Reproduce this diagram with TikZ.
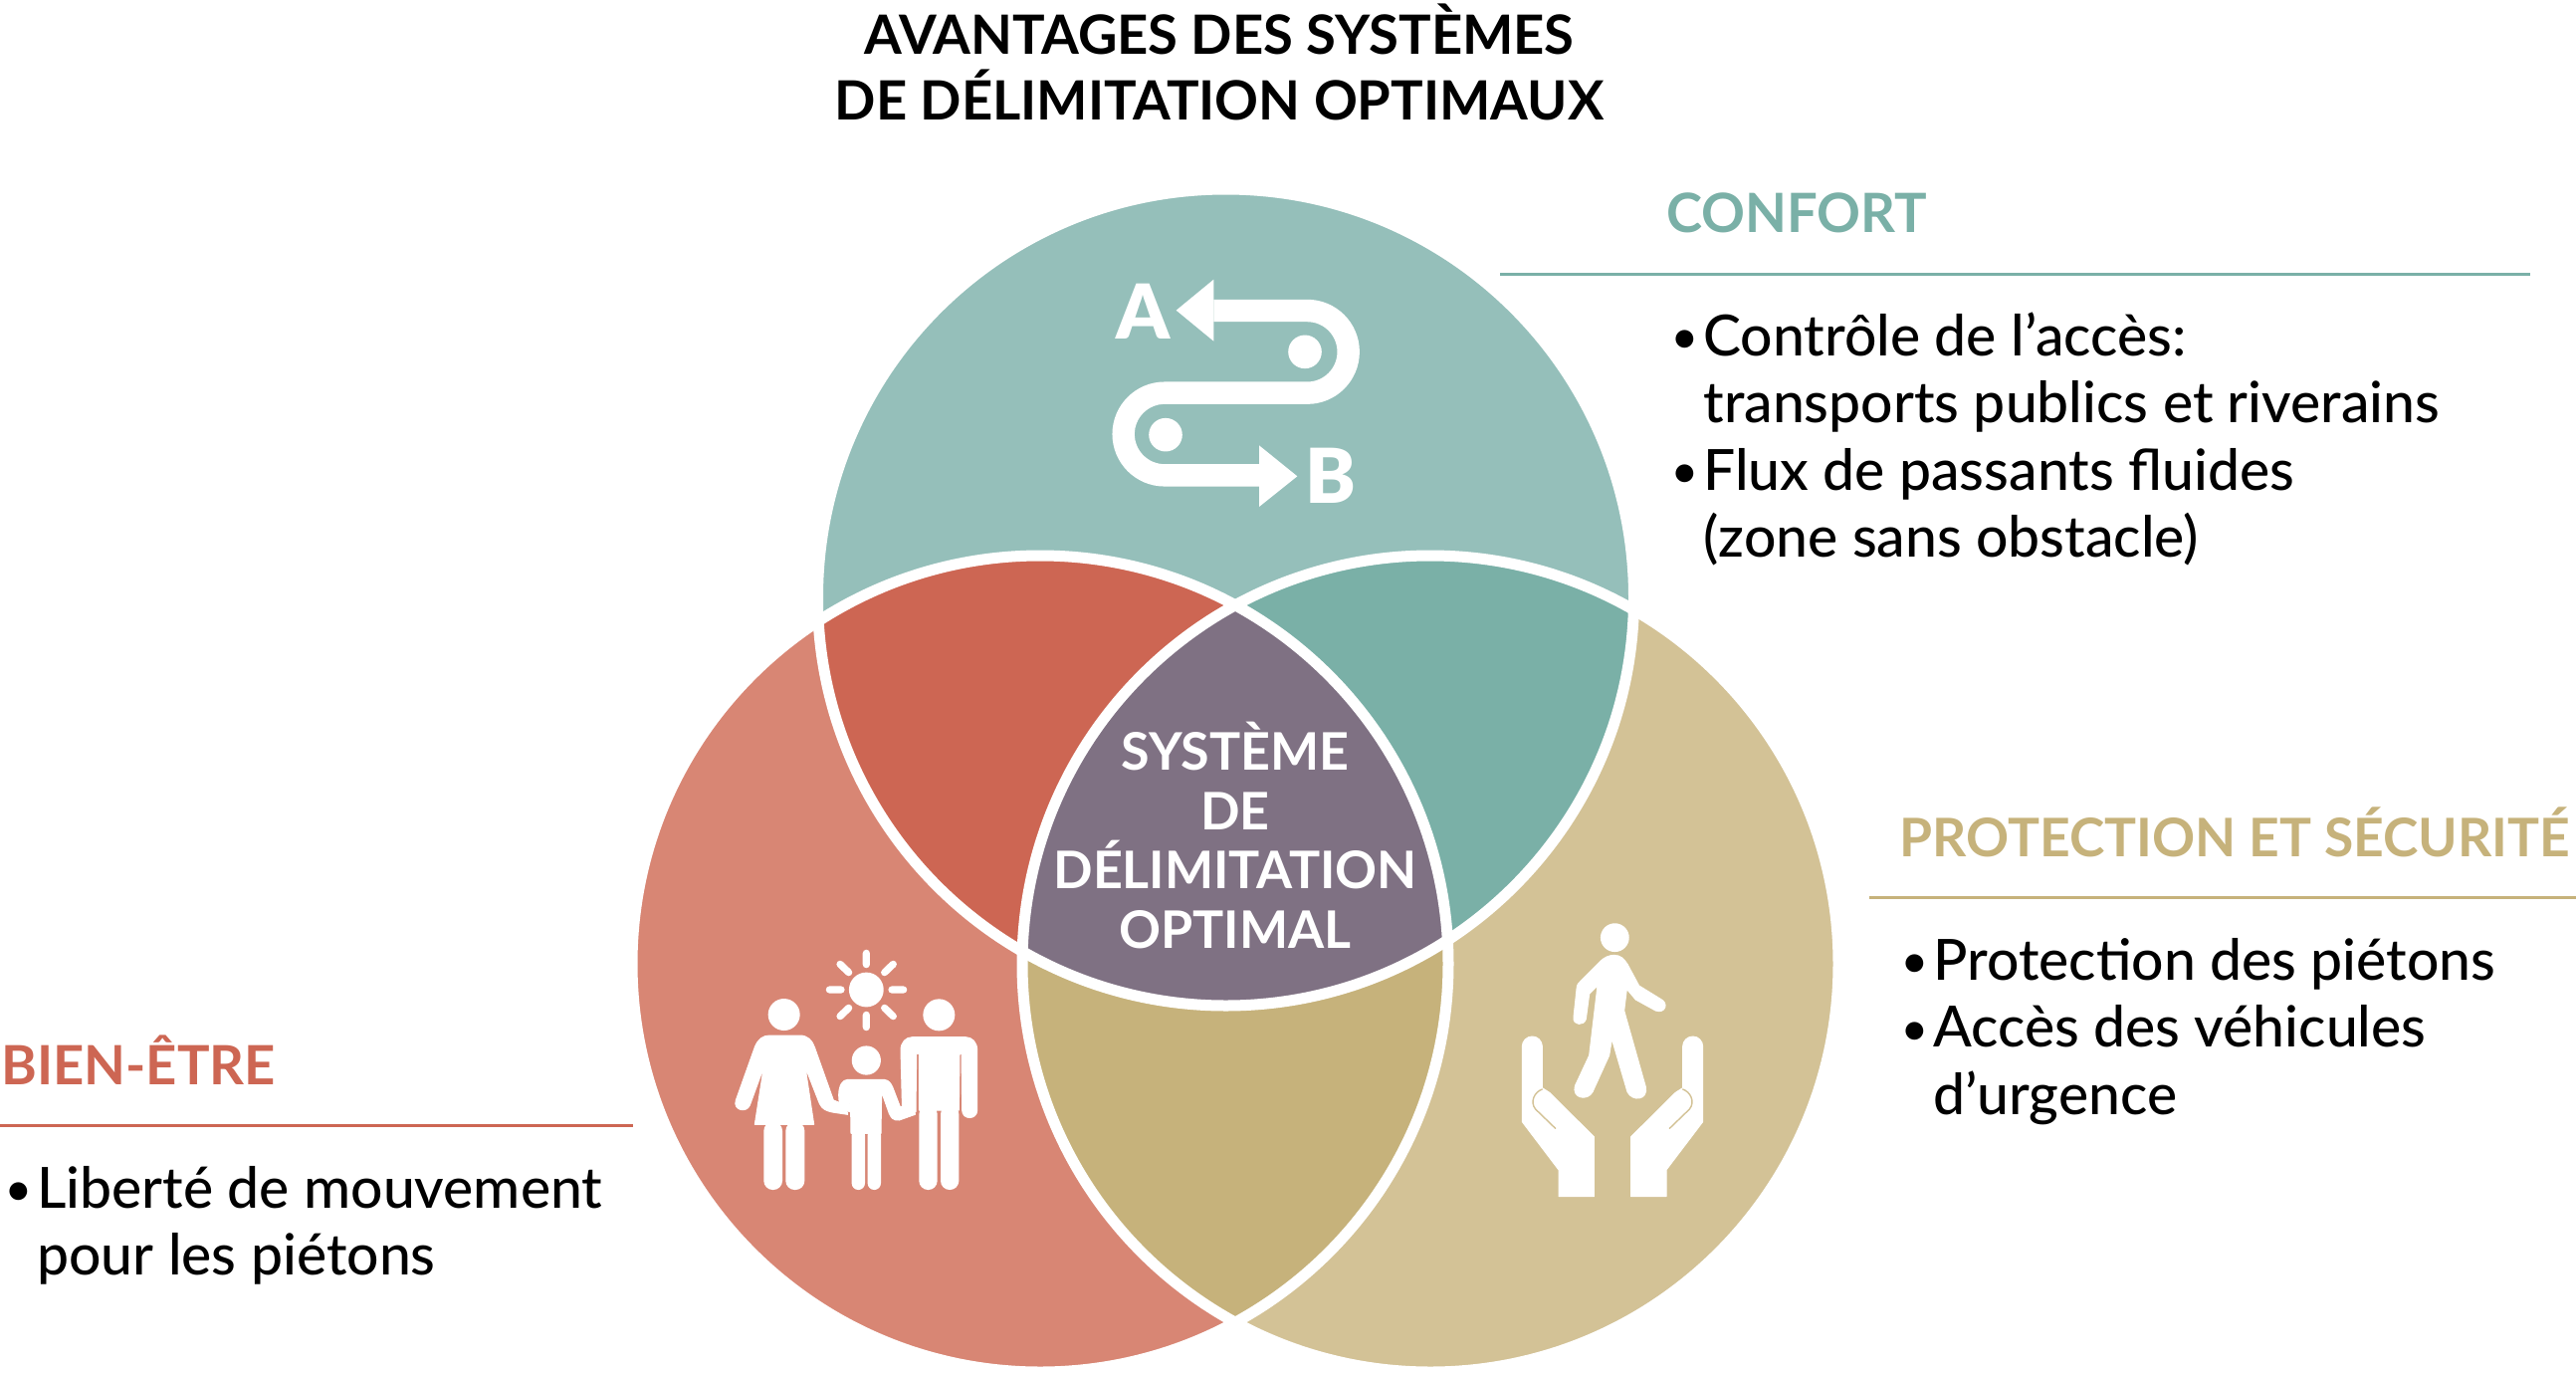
\documentclass[tikz,border=0pt]{standalone}
\usepackage{fontspec}
\setmainfont{Lato Medium}[BoldFont=Lato Bold]
\newfontfamily\iconfont{Lato Black}
\definecolor{ctop}{HTML}{95BFBA}
\definecolor{cleft}{HTML}{D88674}
\definecolor{cright}{HTML}{D3C296}
\definecolor{ctl}{HTML}{CD6653}
\definecolor{ctr}{HTML}{7AB0A7}
\definecolor{cbot}{HTML}{C6B27B}
\definecolor{cmid}{HTML}{7F7183}
\newcommand{\bul}{\makebox[16pt][l]{{\fontsize{23}{23}\selectfont\raisebox{1.2pt}{•}}}}
\newcommand{\ind}{\hspace*{16pt}}
\newcommand{\cirT}{(1231.5,600) circle[radius=205pt]}
\newcommand{\cirL}{(1045,968) circle[radius=205pt]}
\newcommand{\cirR}{(1437,968) circle[radius=205pt]}
\tikzset{
  body/.style={anchor=base west,align=left,inner sep=0pt,font=\fontsize{28.5}{33.75}\selectfont,text=black},
  head/.style={anchor=base west,inner sep=0pt,font=\fontsize{27.2}{33}\selectfont\bfseries},
  rule/.style={line width=1.5pt},
  ring/.style={draw=white,line width=5.5pt},
  icon/.style={fill=white,draw=white,line width=0.5pt,line join=round},
  ray/.style={draw=white,line width=3.6pt,line cap=round},
  letter/.style={inner sep=0pt,anchor=base,text=white,font=\fontsize{38}{38}\iconfont}
}
\begin{document}
\begin{tikzpicture}[x=0.5pt,y=-0.5pt]
\useasboundingbox (0,0) rectangle (2588,1383);
\fill[white] (0,0) rectangle (2588,1383);
% Venn
\fill[ctop] \cirT; \fill[cleft] \cirL; \fill[cright] \cirR;
\begin{scope}\clip \cirT; \fill[ctl] \cirL; \fill[ctr] \cirR; \end{scope}
\begin{scope}\clip \cirL; \fill[cbot] \cirR; \end{scope}
\begin{scope}\clip \cirT; \clip \cirL; \fill[cmid] \cirR; \end{scope}
\draw[ring] \cirT; \draw[ring] \cirL; \draw[ring] \cirR;
% title
\node[anchor=base,inner sep=0pt,align=center,font=\fontsize{27.2}{33}\selectfont\bfseries] (title) at (1225,120) {AVANTAGES DES SYSTÈMES\\DE DÉLIMITATION OPTIMAUX};
% centre
\node[anchor=base,inner sep=0pt,align=center,text=white,font=\fontsize{26}{29.75}\selectfont\bfseries] (centre) at (1241,952) {SYSTÈME\\DE\\DÉLIMITATION\\OPTIMAL};
% confort
\node[head,text=ctr] (hconfort) at (1674,233) {CONFORT};
\draw[rule,ctr] (1507,275) -- (2542,275);
\node[body] (bconfort) at (1679,559.5) {\bul Contrôle de l’accès:\\\ind transports publics et riverains\\\bul Flux de passants fluides\\\ind (zone sans obstacle)};
% protection
\node[head,text=cbot,font=\fontsize{26.7}{33}\selectfont\bfseries] (hprot) at (1908,860) {PROTECTION ET SÉCURITÉ};
\draw[rule,cbot] (1878,901) -- (2588,901);
\node[body] (bprot) at (1910,1119) {\bul Protection des piétons\\\bul Accès des véhicules\\\ind d’urgence};
% bien-etre
\node[head,text=ctl] (hbien) at (1,1089) {BIEN-ÊTRE};
\draw[rule,ctl] (0,1130.5) -- (636,1130.5);
\node[body] (bbien) at (5,1280.5) {\bul Liberté de mouvement\\\ind pour les piétons};
% A-B icon
\begin{scope}[shift={(1080,240)},x=0.16667pt,y=-0.16667pt]
\draw[white,line width=11.2pt] (418,216) -- (700,216) arc[start angle=-90,end angle=90,radius=124] -- (270,464) arc[start angle=-90,end angle=-270,radius=124] -- (555,712);
\fill[white] (305,215) -- (418,122) -- (418,308) -- cycle;
\fill[white] (670,715) -- (555,622) -- (555,807) -- cycle;
\fill[white] (693,340) circle[radius=8.4pt];
\fill[white] (273,590) circle[radius=8.4pt];
\node[letter] (la) at (205,300) {A};
\node[letter] (lb) at (772,797) {B};
\end{scope}
% family icon
\begin{scope}[shift={(710,930)},x=0.16667pt,y=-0.16667pt]
\fill[white] (481,192) circle[radius=8.7pt];
\draw[ray] (481,82)--(481,116) (481,268)--(481,305) (370,192)--(405,192) (558,192)--(593,192) (402,115)--(428,140) (562,115)--(536,140) (402,272)--(428,247) (562,272)--(536,247);
\fill[white] (233,267) circle[radius=8pt];
\fill[white] (700,268) circle[radius=8pt];
\fill[white] (481,405) circle[radius=7.3pt];
% woman
\fill[icon] (190,330) -- (280,330) .. controls (305,330) and (318,345) .. (325,365) -- (382,525) -- (420,540) -- (425,568) -- (385,562) .. controls (360,558) and (348,552) .. (340,535) -- (297,425) -- (323,598) -- (145,598) -- (172,425) -- (130,540) .. controls (120,565) and (78,555) .. (88,525) -- (145,365) .. controls (155,340) and (170,330) .. (190,330) -- cycle;
\fill[white,rounded corners=4.5pt] (172,590) rectangle (228,795);
\fill[white,rounded corners=4.5pt] (238,590) rectangle (295,795);
% child
\fill[icon] (425,463) -- (535,463) .. controls (550,465) and (555,475) .. (560,485) -- (583,545) -- (625,540) -- (628,568) -- (580,585) .. controls (560,587) and (555,575) .. (550,565) -- (527,500) -- (525,625) -- (435,625) -- (433,500) -- (430,560) -- (400,540) -- (398,510) .. controls (398,480) and (410,463) .. (425,463) -- cycle;
\fill[white,rounded corners=3.3pt] (437,610) rectangle (477,795);
\fill[white,rounded corners=3.3pt] (485,610) rectangle (525,795);
% man
\fill[icon] (620,335) -- (780,335) .. controls (800,335) and (815,350) .. (815,375) -- (815,555) .. controls (815,585) and (770,585) .. (770,555) -- (768,385) -- (762,385) -- (760,555) -- (640,555) -- (640,385) -- (632,385) -- (630,560) -- (590,570) -- (585,375) .. controls (585,350) and (600,335) .. (620,335) -- cycle;
\fill[white,rounded corners=4.5pt] (640,540) rectangle (695,795);
\fill[white,rounded corners=4.5pt] (705,540) rectangle (760,795);
\end{scope}
% walker icon
\begin{scope}[shift={(1500,900)},x=0.16667pt,y=-0.16667pt]
\fill[white] (367,125) circle[radius=7.2pt];
\fill[icon] (365,178) .. controls (385,178) and (395,190) .. (405,205) -- (440,270) -- (505,310) .. controls (530,322) and (520,355) .. (490,345) -- (430,312) -- (403,280) -- (395,345) -- (460,575) .. controls (468,615) and (420,620) .. (405,590) -- (358,430) -- (350,480) -- (300,590) .. controls (285,618) and (235,610) .. (248,570) -- (290,480) -- (315,270) -- (290,295) -- (280,370) .. controls (275,392) and (240,390) .. (243,365) -- (252,280) .. controls (253,265) and (258,262) .. (265,255) -- (325,195) .. controls (335,185) and (350,178) .. (365,178) -- cycle;
\fill[icon] (88,453) arc[start angle=180,end angle=360,radius=30] -- (148,578) -- (170,592) -- (304,725) -- (304,905) -- (198,905) -- (198,825) -- (88,680) -- cycle;
\draw[cright,line width=0.7pt,line cap=round] (148,582) .. controls (125,590) and (110,620) .. (128,642) -- (188,700);
\fill[icon] (632,453) arc[start angle=0,end angle=-180,radius=30] -- (572,578) -- (550,592) -- (416,725) -- (416,905) -- (522,905) -- (522,825) -- (632,680) -- cycle;
\draw[cright,line width=0.7pt,line cap=round] (572,582) .. controls (595,590) and (610,620) .. (592,642) -- (532,700);
\end{scope}
\end{tikzpicture}
\end{document}
